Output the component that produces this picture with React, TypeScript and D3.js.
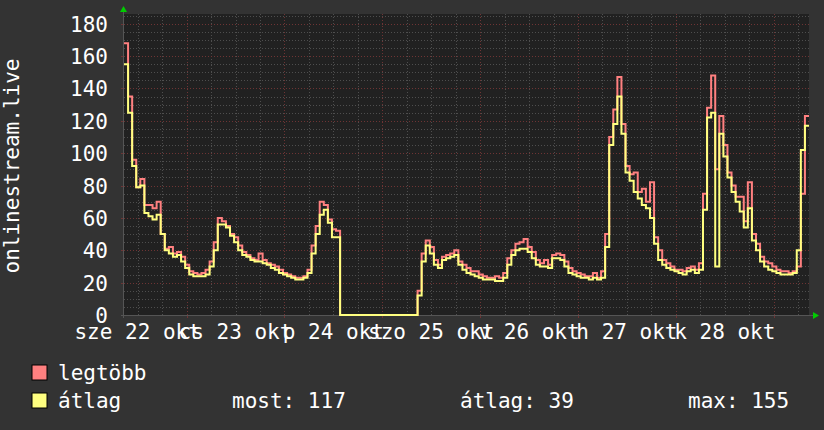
import React from "react";
import * as d3 from "d3";

// hourly values, first hour starts 2025-10-22 08:39
const legtobb = [
  168, 135, 96, 79, 84, 68, 68, 66, 70, 50,
  41, 42, 38, 39, 36, 31, 27, 26, 25, 26,
  28, 33, 45, 60, 58, 55, 50, 48, 43, 39,
  37, 35, 34, 38, 34, 32, 31, 30, 28, 26,
  25, 24, 23, 23, 24, 28, 43, 55, 70, 68,
  59, 53, 52, 0, 0, 0, 0, 0, 0, 0,
  0, 0, 0, 0, 0, 0, 0, 0, 0, 0,
  0, 0, 15, 38, 46, 42, 34, 31, 36, 37,
  38, 40, 33, 31, 29, 27, 27, 25, 24, 23,
  23, 24, 23, 26, 35, 40, 44, 45, 47, 42,
  39, 34, 32, 34, 31, 37, 38, 37, 33, 29,
  27, 26, 25, 24, 24, 26, 23, 27, 50, 110,
  127, 147, 118, 92, 87, 88, 76, 78, 70, 82,
  48, 40, 34, 32, 30, 28, 28, 27, 29, 30,
  28, 32, 75, 128, 148, 90, 123, 105, 88, 80,
  73, 73, 58, 82, 50, 44, 36, 33, 32, 30,
  28, 27, 27, 26, 27, 30, 75, 123,
];

const atlag = [
  155, 125, 92, 79, 80, 63, 61, 59, 62, 50,
  40, 38, 36, 37, 33, 29, 25, 24, 24, 24,
  25, 30, 40, 56, 56, 54, 49, 45, 40, 37,
  36, 34, 33, 33, 32, 31, 29, 28, 26, 25,
  24, 23, 22, 22, 23, 26, 38, 50, 62, 65,
  57, 48, 48, 0, 0, 0, 0, 0, 0, 0,
  0, 0, 0, 0, 0, 0, 0, 0, 0, 0,
  0, 0, 12, 33, 43, 38, 31, 29, 34, 35,
  36, 37, 31, 28, 26, 25, 24, 23, 22, 22,
  22, 21, 21, 23, 31, 37, 40, 41, 41, 39,
  35, 31, 30, 30, 29, 35, 35, 34, 30, 26,
  25, 24, 23, 23, 22, 23, 22, 23, 42, 105,
  118, 135, 112, 88, 83, 76, 72, 68, 66, 60,
  44, 34, 31, 29, 28, 27, 26, 25, 27, 28,
  26, 28, 65, 122, 125, 30, 112, 98, 85, 76,
  70, 64, 54, 66, 46, 40, 33, 30, 28, 27,
  26, 25, 25, 25, 26, 40, 102, 117,
];

const dayLabels = ["sze 22 okt", "cs 23 okt", "p 24 okt", "szo 25 okt", "v 26 okt", "h 27 okt", "k 28 okt"];
const yTicks = [0, 20, 40, 60, 80, 100, 120, 140, 160, 180];
const legendNames = ["legtöbb", "átlag"];
const summary = ["most: 117", "átlag: 39", "max: 155"];

const W = 824;
const H = 430;
const FONT = "'DejaVu Sans Mono', monospace";

const t0 = new Date(Date.UTC(2025, 9, 22, 8, 39));
const t1 = new Date(+t0 + 168 * 3600 * 1000);

export default function App() {
  const x = d3.scaleUtc().domain([t0, t1]).range([124, 809]);
  const y = d3.scaleLinear().domain([0, 186]).range([315, 14]);

  const toPts = (vals: number[]) => {
    const pts: [Date, number][] = vals.map((v, i) => [new Date(+t0 + i * 3600e3), v]);
    pts.push([t1, vals[vals.length - 1]]);
    return pts;
  };
  const line = d3
    .line<[Date, number]>()
    .x((d) => x(d[0]))
    .y((d) => y(d[1]))
    .curve(d3.curveStepAfter);

  const minorX = d3.utcHour.every(6)!.range(t0, t1).filter((d) => d.getUTCHours() !== 0);
  const majorX = d3.utcDay.range(t0, t1);
  const noons = d3.utcHour.range(t0, t1).filter((d) => d.getUTCHours() === 12);
  const minorY = d3.range(0, 187, 5).filter((v) => v % 20 !== 0);

  const [x0, x1] = x.range();
  const [yb, yt] = y.range();

  return (
    <svg width={W} height={H} style={{ position: "absolute", left: 0, top: 0, background: "#333333" }} fontFamily={FONT}>
      <rect x={x0} y={yt} width={x1 - x0} height={yb - yt} fill="#212121" />

      {/* minor grid */}
      <g stroke="#4e4e4e" strokeWidth={1} strokeDasharray="1 2" shapeRendering="crispEdges">
        {minorY.map((v) => (
          <line key={"my" + v} x1={x0} x2={x1} y1={Math.round(y(v)) + 0.5} y2={Math.round(y(v)) + 0.5} />
        ))}
        {minorX.map((d) => (
          <line key={"mx" + +d} x1={Math.round(x(d)) + 0.5} x2={Math.round(x(d)) + 0.5} y1={yt} y2={yb} />
        ))}
      </g>
      {/* major grid */}
      <g stroke="#6e3434" strokeWidth={1} strokeDasharray="1 2" shapeRendering="crispEdges">
        {yTicks.map((v) => (
          <line key={"My" + v} x1={x0} x2={x1} y1={Math.round(y(v)) + 0.5} y2={Math.round(y(v)) + 0.5} />
        ))}
        {majorX.map((d) => (
          <line key={"Mx" + +d} x1={Math.round(x(d)) + 0.5} x2={Math.round(x(d)) + 0.5} y1={yt} y2={yb} />
        ))}
      </g>

      {/* ticks */}
      <g stroke="#6e3434" shapeRendering="crispEdges">
        {yTicks.map((v) => (
          <line key={"ty" + v} x1={x0 - 3} x2={x0} y1={Math.round(y(v)) + 0.5} y2={Math.round(y(v)) + 0.5} />
        ))}
        {majorX.map((d) => (
          <line key={"tx" + +d} x1={Math.round(x(d)) + 0.5} x2={Math.round(x(d)) + 0.5} y1={yb} y2={yb + 3} />
        ))}
      </g>

      {/* axes */}
      <g stroke="#555555" strokeWidth={1} shapeRendering="crispEdges">
        <line x1={x0 - 3} x2={x1 + 4} y1={yb + 0.5} y2={yb + 0.5} />
        <line x1={x0 - 0.5} x2={x0 - 0.5} y1={yb + 3} y2={yt - 3} />
      </g>
      <path d={`M${x0 - 4},${yt - 2} L${x0 + 3},${yt - 2} L${x0 - 0.5},${yt - 8} Z`} fill="#00cc00" />
      <path d={`M${x1 + 4},${yb - 3} L${x1 + 4},${yb + 4} L${x1 + 10},${yb + 0.5} Z`} fill="#00cc00" />

      {/* series */}
      <path d={line(toPts(legtobb)) ?? ""} fill="none" stroke="#ff8080" strokeWidth={2} />
      <path d={line(toPts(atlag)) ?? ""} fill="none" stroke="#ffff80" strokeWidth={2} />

      {/* y labels */}
      <g fill="#ffffff" fontSize={21} textAnchor="end">
        {yTicks.map((v) => (
          <text key={"yl" + v} x={108} y={y(v) + 8}>
            {v}
          </text>
        ))}
      </g>
      <text transform="translate(19,166) rotate(-90)" textAnchor="middle" fill="#ffffff" fontSize={21}>
        onlinestream.live
      </text>

      {/* x labels */}
      <g fill="#ffffff" fontSize={21} textAnchor="middle">
        {noons.map((d, i) => (
          <text key={"xl" + i} x={x(d)} y={339}>
            {dayLabels[i]}
          </text>
        ))}
      </g>

      {/* legend */}
      <rect x={32} y={365} width={15} height={15} fill="#ff8080" stroke="#000" />
      <rect x={32} y={393} width={15} height={15} fill="#ffff80" stroke="#000" />
      <g fill="#ffffff" fontSize={21}>
        <text x={58} y={380}>{legendNames[0]}</text>
        <text x={58} y={408}>{legendNames[1]}</text>
        <text x={232} y={408}>{summary[0]}</text>
        <text x={460} y={408}>{summary[1]}</text>
        <text x={688} y={408}>{summary[2]}</text>
      </g>
    </svg>
  );
}
